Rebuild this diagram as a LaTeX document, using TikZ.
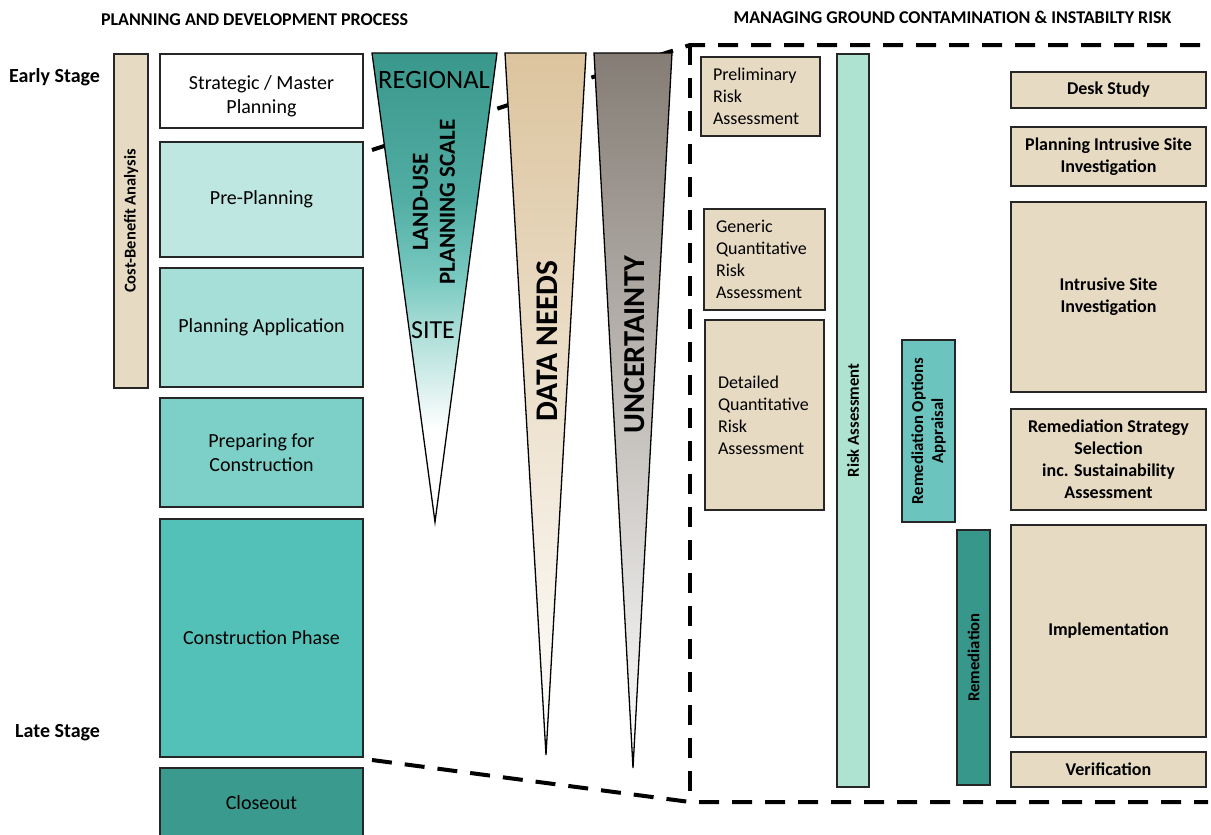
\documentclass[tikz,border=0pt]{standalone}
\usepackage{fontspec}
\setmainfont{Carlito}
\usetikzlibrary{calc}

\definecolor{beige}{HTML}{E6DAC3}
\definecolor{stageA}{HTML}{BFE7E2}
\definecolor{stageB}{HTML}{A6DFD8}
\definecolor{stageC}{HTML}{7DD0C7}
\definecolor{stageD}{HTML}{53C1B7}
\definecolor{stageE}{HTML}{3A9A8E}
\definecolor{riskfill}{HTML}{AEE3D1}
\definecolor{optfill}{HTML}{6CC4BF}
\definecolor{remedfill}{HTML}{38978B}
\definecolor{landtop}{HTML}{3A978B}
\definecolor{landupper}{HTML}{52AEA4}
\definecolor{landmid}{HTML}{7ACAC1}
\definecolor{landlow}{HTML}{AADDD7}
\definecolor{datatop}{HTML}{DCC49E}
\definecolor{unctop}{HTML}{857D75}

\pgfdeclareverticalshading{landshade}{100bp}{color(0bp)=(white); color(34.8bp)=(white);
  color(45.5bp)=(landlow); color(50.8bp)=(landmid); color(59.3bp)=(landupper);
  color(75bp)=(landtop); color(100bp)=(landtop)}

\tikzset{
  panel/.style={draw=black!85, line width=1.2pt, inner sep=0pt, align=center},
  stage/.style={panel, minimum width=203, font=\fontsize{20}{24}\selectfont},
  task/.style={panel, fill=beige, minimum width=195, font=\fontsize{18}{22}\selectfont\bfseries},
  riskbox/.style={panel, fill=beige, align=left, font=\fontsize{18}{22}\selectfont},
  vbar/.style={panel, rotate=90, font=\fontsize{16.7}{20}\selectfont\bfseries},
  zoomline/.style={line width=4pt, dash pattern=on 20pt off 13pt},
  wedgeline/.style={draw=black, line width=1.3pt},
  heading/.style={inner sep=0pt, font=\fontsize{18}{21}\selectfont\bfseries},
  stagelabel/.style={inner sep=0pt, anchor=west, font=\fontsize{20}{24}\selectfont\bfseries},
}

\begin{document}
\begin{tikzpicture}[x=1pt, y=-1pt]
  \useasboundingbox (0,0) rectangle (1211,835);
  %%%%% START %%%%%

  \node[heading] (head1) at (254.5,20) {PLANNING AND DEVELOPMENT PROCESS};
  \node[heading] (head2) at (952.5,17) {MANAGING GROUND CONTAMINATION \& INSTABILTY RISK};

  \node[stagelabel] (early) at (9,77) {Early Stage};
  \node[stagelabel] (late) at (15,733) {Late Stage};

  % zoom lines and dashed frame
  \coordinate (zoomtop) at (372,150);
  \coordinate (zoombot) at (372,760);
  \coordinate (frameNW) at (690,45);
  \coordinate (frameSW) at (690,802);
  \coordinate (frameNE) at (1208,45);
  \coordinate (frameSE) at (1208,802);
  \draw[zoomline] (zoomtop) -- (frameNW) -- (frameNE);
  \draw[zoomline] (zoombot) -- (frameSW) -- (frameSE);
  \draw[zoomline] (frameNW) -- (frameSW);

  % planning stages
  \node[vbar, fill=beige, minimum width=334, minimum height=34, font=\fontsize{16.5}{19}\selectfont\bfseries] (cba) at (131,221) {Cost-Benefit Analysis};

  \node[stage, fill=white, minimum height=74,
        label={[align=center, yshift=-5pt, font=\fontsize{20}{24}\selectfont]center:Strategic / Master\\Planning}] (strat) at (261.5,91) {};
  \node[stage, fill=stageA, minimum height=115] (pre) at (261.5,199.5) {Pre-Planning};
  \node[stage, fill=stageB, minimum height=119] (app) at (261.5,327.5) {Planning Application};
  \node[stage, fill=stageC, minimum height=109] (prep) at (261.5,452.5) {Preparing for\\Construction};
  \node[stage, fill=stageD, minimum height=238] (constr) at (261.5,638) {Construction Phase};
  \node[stage, fill=stageE, minimum height=70] (close) at (261.5,803) {Closeout};

  % wedges
  \draw[wedgeline, shading=landshade] (372,53) -- (497,53) -- (435,522) -- cycle;
  \draw[wedgeline, top color=datatop, bottom color=white] (505,53) -- (586,53) -- (546,755) -- cycle;
  \draw[wedgeline, top color=unctop, bottom color=white] (594,53) -- (672,53) -- (633,768) -- cycle;

  \node[inner sep=0pt, font=\fontsize{26.5}{30}\selectfont] (regional) at (434,80) {REGIONAL};
  \node[inner sep=0pt, font=\fontsize{26}{30}\selectfont] (site) at (433,330) {SITE};
  \node[inner sep=0pt, rotate=90, align=center, font=\fontsize{23}{27}\selectfont\bfseries] (landuse) at (434,202) {LAND-USE\\PLANNING SCALE};
  \node[inner sep=0pt, rotate=90, font=\fontsize{31.5}{36}\selectfont\bfseries] (dataneeds) at (547,341) {DATA NEEDS};
  \node[inner sep=0pt, rotate=90, font=\fontsize{30.4}{35}\selectfont\bfseries] (uncert) at (635,345) {UNCERTAINTY};

  % risk assessment stages
  \node[riskbox, minimum width=119, minimum height=79, text width=95pt] (prelim) at (760.5,96.5) {Preliminary\\Risk\\Assessment};
  \node[riskbox, minimum width=121, minimum height=101, text width=97pt] (gqra) at (764.5,259.5) {Generic\\Quantitative\\Risk\\Assessment};
  \node[riskbox, minimum width=119, minimum height=190, text width=93pt] (dqra) at (764.5,415) {Detailed\\Quantitative\\Risk\\Assessment};

  \node[vbar, fill=riskfill, minimum width=733, minimum height=32] (riskbar) at (853,420.5) {Risk Assessment};
  \node[vbar, fill=optfill, minimum width=182, minimum height=53] (options) at (928.5,431) {Remediation Options\\Appraisal};
  \node[vbar, fill=remedfill, minimum width=255, minimum height=33] (remed) at (973.5,657.5) {Remediation};

  % site tasks
  \node[task, minimum height=36] (desk) at (1108.5,90) {Desk Study};
  \node[task, minimum height=59] (plansi) at (1108.5,156.5) {Planning Intrusive Site\\Investigation};
  \node[task, minimum height=190] (intrusive) at (1108.5,297) {Intrusive Site\\Investigation};
  \node[task, minimum height=101] (strategy) at (1108.5,459.5) {Remediation Strategy\\Selection\\inc. Sustainability\\Assessment};
  \node[task, minimum height=212] (implement) at (1108.5,631) {Implementation};
  \node[task, minimum height=35] (verify) at (1108.5,769.5) {Verification};

  %%%%% END %%%%%
\end{tikzpicture}
\end{document}
